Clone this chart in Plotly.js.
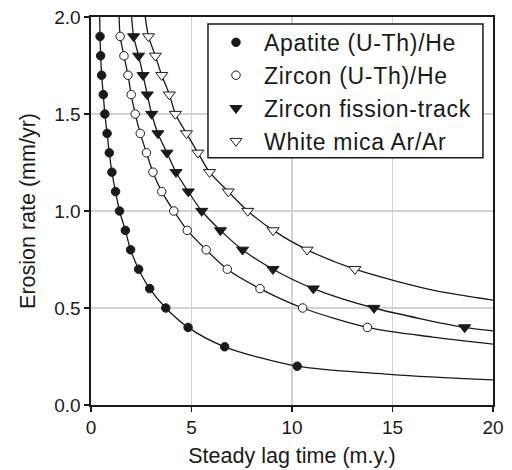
<!DOCTYPE html>
<html>
<head>
<meta charset="utf-8">
<script src="https://cdn.plot.ly/plotly-3.0.1.min.js"></script>
<style>
html,body{margin:0;padding:0;background:#fff;}
#chart{width:512px;height:470px;}
#chart .legendtext{letter-spacing:0.7px;}
#chart .legend .scrollbox{clip-path:none !important;}
</style>
</head>
<body>
<div id="chart"></div>
<script>
// Series names
var seriesNames = ["Apatite (U-Th)/He", "Zircon (U-Th)/He", "Zircon fission-track", "White mica Ar/Ar"];

// Data points: erosion rate (mm/yr) and steady lag time (m.y.)
var apatiteE = [1.9,1.8,1.7,1.6,1.5,1.4,1.3,1.2,1.1,1.0,0.9,0.8,0.7,0.6,0.5,0.4,0.3,0.2];
var apatiteT = [0.45,0.48,0.53,0.61,0.69,0.80,0.91,1.04,1.22,1.42,1.71,1.97,2.37,2.92,3.72,4.83,6.65,10.26];

var zirconHeE = [1.9,1.8,1.7,1.6,1.5,1.4,1.3,1.2,1.1,1.0,0.9,0.8,0.7,0.6,0.5,0.4];
var zirconHeT = [1.45,1.64,1.84,2.00,2.20,2.45,2.76,3.08,3.52,4.12,4.79,5.73,6.78,8.41,10.53,13.75];

var zirconFtE = [1.9,1.8,1.7,1.6,1.5,1.4,1.3,1.2,1.1,1.0,0.9,0.8,0.7,0.6,0.5,0.4];
var zirconFtT = [2.12,2.37,2.59,2.80,3.02,3.33,3.78,4.23,4.84,5.51,6.44,7.54,9.05,11.06,14.08,18.59];

var micaE = [1.9,1.8,1.7,1.6,1.5,1.4,1.3,1.2,1.1,1.0,0.9,0.8,0.7];
var micaT = [2.86,3.20,3.52,3.90,4.20,4.75,5.32,5.90,6.83,7.80,9.06,10.75,13.13];

// Fitted curves (ends beyond the data points)
var apatiteCurveTopT = 0.43,  apatiteCurveTailT = [15, 20],  apatiteCurveTailE = [0.157, 0.129];
var zirconHeCurveTopT = 1.40, zirconHeCurveTailT = [17, 20], zirconHeCurveTailE = [0.350, 0.314];
var zirconFtCurveTopT = 2.02, zirconFtCurveTailT = [20],     zirconFtCurveTailE = [0.382];
var micaCurveTopT = 2.70,     micaCurveTailT = [17, 20],     micaCurveTailE = [0.592, 0.541];
var curveTopE = 2.0;

// Axis ticks
var xTicks = [0, 5, 10, 15, 20];
var yTicks = [0.0, 0.5, 1.0, 1.5, 2.0];

var FONT = "Liberation Sans, Arial, Helvetica, sans-serif";
var INK = "#1a1a1a";

function curve(topT, t, e, tailT, tailE) {
  return {
    x: [topT].concat(t, tailT),
    y: [curveTopE].concat(e, tailE),
    mode: "lines",
    type: "scatter",
    line: {color: INK, width: 1.3, shape: "spline", smoothing: 0.8},
    showlegend: false,
    hoverinfo: "skip"
  };
}
function pts(name, t, e, symbol, fill, size) {
  return {
    x: t, y: e, name: name, mode: "markers", type: "scatter",
    legendgroup: name,
    marker: {symbol: symbol, size: size, color: fill, line: {color: INK, width: 1}},
    cliponaxis: false
  };
}

var data = [
  curve(apatiteCurveTopT, apatiteT, apatiteE, apatiteCurveTailT, apatiteCurveTailE),
  curve(zirconHeCurveTopT, zirconHeT, zirconHeE, zirconHeCurveTailT, zirconHeCurveTailE),
  curve(zirconFtCurveTopT, zirconFtT, zirconFtE, zirconFtCurveTailT, zirconFtCurveTailE),
  curve(micaCurveTopT, micaT, micaE, micaCurveTailT, micaCurveTailE),
  pts(seriesNames[0], apatiteT, apatiteE, "circle", INK, 8.5),
  pts(seriesNames[1], zirconHeT, zirconHeE, "circle", "#ffffff", 8.5),
  pts(seriesNames[2], zirconFtT, zirconFtE, "triangle-down", INK, 10.5),
  pts(seriesNames[3], micaT, micaE, "triangle-down", "#ffffff", 10.5)
];

var axisCommon = {
  showline: true, mirror: true, linecolor: INK, linewidth: 1.6,
  ticks: "outside", ticklen: 5, tickwidth: 1.6, tickcolor: INK,
  showgrid: true, gridcolor: "#d2d2d2", gridwidth: 1.5,
  zeroline: false, tickfont: {family: FONT, size: 19, color: INK}
};

var layout = {
  width: 512, height: 470,
  margin: {l: 91, r: 19, t: 17, b: 65},
  paper_bgcolor: "#ffffff", plot_bgcolor: "#ffffff",
  font: {family: FONT, color: INK},
  xaxis: Object.assign({}, axisCommon, {
    range: [0, 20], tickvals: xTicks, ticktext: xTicks.map(String),
    title: {text: "Steady lag time (m.y.)", font: {family: FONT, size: 21.5, color: INK}, standoff: 10}
  }),
  yaxis: Object.assign({}, axisCommon, {
    range: [0, 2], tickvals: yTicks, ticktext: yTicks.map(function(v){return v.toFixed(1);}),
    title: {text: "Erosion rate (mm/yr)", font: {family: FONT, size: 21.5, color: INK}, standoff: 12}
  }),
  // legend frame (white box with border) drawn behind the legend entries
  shapes: [{
    type: "rect", xref: "paper", yref: "paper", layer: "above",
    x0: 0.291, x1: 0.975, y0: 0.637, y1: 0.982,
    fillcolor: "#ffffff", line: {color: INK, width: 1.5}
  }],
  legend: {
    x: 0.291, y: 0.99, xanchor: "left", yanchor: "top",
    bgcolor: "rgba(0,0,0,0)", borderwidth: 0,
    font: {family: FONT, size: 23, color: INK},
    traceorder: "grouped", tracegroupgap: 0, itemwidth: 46
  },
  showlegend: true
};

Plotly.newPlot("chart", data, layout, {displayModeBar: false, staticPlot: true});
</script>
</body>
</html>
